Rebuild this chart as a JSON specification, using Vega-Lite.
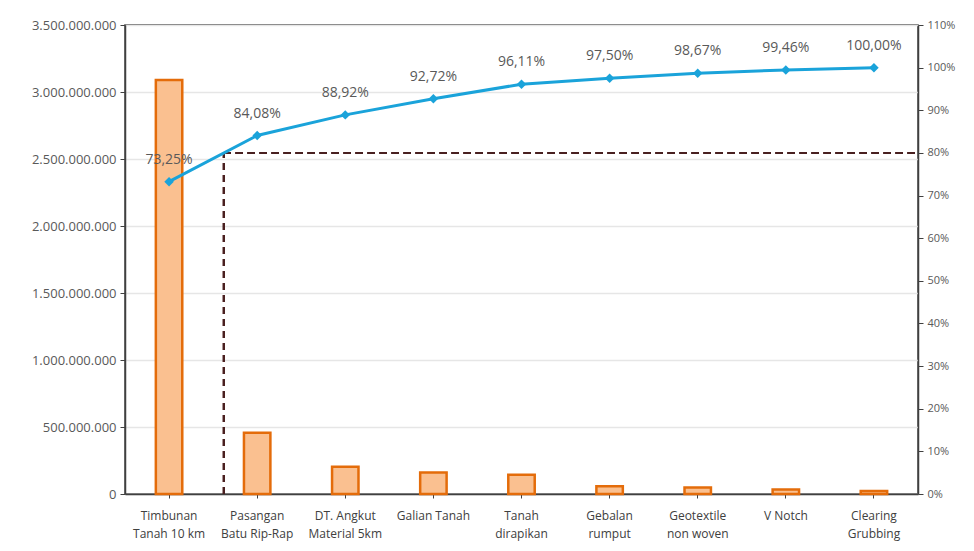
{
  "$schema": "https://vega.github.io/schema/vega-lite/v6.json",
  "autosize": {"type": "none"},
  "width": 793,
  "height": 469,
  "padding": {"left": 125, "top": 25, "right": 56, "bottom": 57},
  "background": "white",
  "config": {
    "locale": {"number": {"decimal": ",", "thousands": ".", "grouping": [3], "currency": ["Rp", ""]}},
    "font": "Open Sans",
    "view": {"stroke": "#404040", "strokeWidth": 1.5},
    "axis": {"labelFont": "Open Sans", "labelColor": "#595959", "labelFontSize": 12, "domainColor": "#404040", "domainWidth": 1.5, "tickColor": "#404040", "tickSize": 5, "title": null}
  },
  "data": {
    "values": [
      {"item": "Timbunan|Tanah 10 km", "biaya": 3090000000, "kumulatif": 0.7325},
      {"item": "Pasangan|Batu Rip-Rap", "biaya": 457000000, "kumulatif": 0.8408},
      {"item": "DT. Angkut|Material 5km", "biaya": 204200000, "kumulatif": 0.8892},
      {"item": "Galian Tanah", "biaya": 160300000, "kumulatif": 0.9272},
      {"item": "Tanah|dirapikan", "biaya": 143000000, "kumulatif": 0.9611},
      {"item": "Gebalan|rumput", "biaya": 58600000, "kumulatif": 0.975},
      {"item": "Geotextile|non woven", "biaya": 49400000, "kumulatif": 0.9867},
      {"item": "V Notch", "biaya": 33300000, "kumulatif": 0.9946},
      {"item": "Clearing|Grubbing", "biaya": 22800000, "kumulatif": 1.0}
    ]
  },
  "encoding": {
    "x": {
      "field": "item", "type": "nominal", "sort": null,
      "scale": {"paddingInner": 0, "paddingOuter": 0},
      "axis": {"labelExpr": "split(datum.label, '|')", "labelAngle": 0, "labelColor": "#404040", "labelFontSize": 12, "labelPadding": 12, "labelLineHeight": 18, "tickSize": 4, "grid": false}
    }
  },
  "layer": [
    {
      "mark": {"type": "bar", "width": {"band": 0.3}, "fill": "#FAC090", "stroke": "#E46C0A", "strokeWidth": 2.5},
      "encoding": {
        "y": {
          "field": "biaya", "type": "quantitative",
          "scale": {"domain": [0, 3500000000]},
          "axis": {"orient": "left", "values": [0, 500000000, 1000000000, 1500000000, 2000000000, 2500000000, 3000000000, 3500000000], "format": ",.0f", "grid": true, "gridColor": "#E6E6E6", "gridWidth": 1.5, "labelPadding": 4, "labelFontSize": 13}
        }
      }
    },
    {
      "layer": [
        {
          "mark": {"type": "rule", "color": "#4a2020", "strokeWidth": 1.5, "strokeDash": [7, 5]},
          "encoding": {
            "x": {"datum": "Pasangan|Batu Rip-Rap", "bandPosition": 0.12},
            "y": {"datum": 0, "type": "quantitative"},
            "y2": {"datum": 0.8}
          }
        },
        {
          "mark": {"type": "rule", "color": "#4a2020", "strokeWidth": 1.5, "strokeDash": [7, 5]},
          "encoding": {
            "x": {"datum": "Pasangan|Batu Rip-Rap", "bandPosition": 0.12},
            "x2": {"datum": "Clearing|Grubbing", "bandPosition": 1},
            "y": {"datum": 0.8, "type": "quantitative"}
          }
        },
        {
          "mark": {"type": "line", "color": "#1AA3DA", "strokeWidth": 3},
          "encoding": {
            "y": {
              "field": "kumulatif", "type": "quantitative",
              "scale": {"domain": [0, 1.1]},
              "axis": {"orient": "right", "values": [0, 0.1, 0.2, 0.3, 0.4, 0.5, 0.6, 0.7, 0.8, 0.9, 1.0, 1.1], "format": ".0%", "grid": false, "labelFontSize": 11, "labelPadding": 4}
            }
          }
        },
        {
          "mark": {"type": "point", "shape": "diamond", "filled": true, "size": 90, "color": "#1AA3DA", "opacity": 1},
          "encoding": {"y": {"field": "kumulatif", "type": "quantitative"}}
        },
        {
          "mark": {"type": "text", "dy": -22, "fontSize": 14, "color": "#595959", "font": "Open Sans"},
          "encoding": {
            "y": {"field": "kumulatif", "type": "quantitative"},
            "text": {"field": "kumulatif", "type": "quantitative", "format": ".2%"}
          }
        }
      ]
    }
  ],
  "resolve": {"scale": {"y": "independent"}}
}
